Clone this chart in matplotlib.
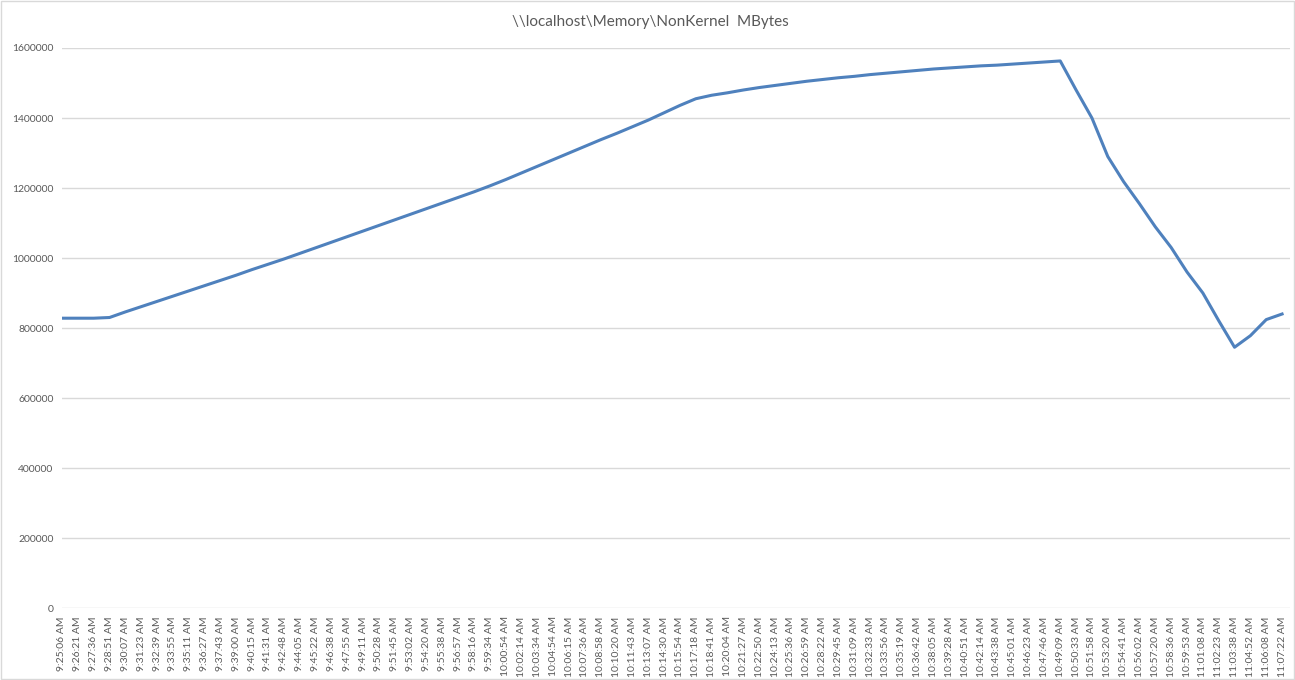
import matplotlib
matplotlib.use('Agg')
import matplotlib.pyplot as plt
from matplotlib.patches import Rectangle

plt.rcParams['font.family'] = ['Lato', 'DejaVu Sans']

BLUE = "#4F81BD"
GRID = "#D9D9D9"
TEXT = "#595959"

# sample times shown on the category axis
times = [
    "9:25:06 AM", "9:26:21 AM", "9:27:36 AM", "9:28:51 AM", "9:30:07 AM", "9:31:23 AM",
    "9:32:39 AM", "9:33:55 AM", "9:35:11 AM", "9:36:27 AM", "9:37:43 AM", "9:39:00 AM",
    "9:40:15 AM", "9:41:31 AM", "9:42:48 AM", "9:44:05 AM", "9:45:22 AM", "9:46:38 AM",
    "9:47:55 AM", "9:49:11 AM", "9:50:28 AM", "9:51:45 AM", "9:53:02 AM", "9:54:20 AM",
    "9:55:38 AM", "9:56:57 AM", "9:58:16 AM", "9:59:34 AM", "10:00:54 AM", "10:02:14 AM",
    "10:03:34 AM", "10:04:54 AM", "10:06:15 AM", "10:07:36 AM", "10:08:58 AM", "10:10:20 AM",
    "10:11:43 AM", "10:13:07 AM", "10:14:30 AM", "10:15:54 AM", "10:17:18 AM", "10:18:41 AM",
    "10:20:04 AM", "10:21:27 AM", "10:22:50 AM", "10:24:13 AM", "10:25:36 AM", "10:26:59 AM",
    "10:28:22 AM", "10:29:45 AM", "10:31:09 AM", "10:32:33 AM", "10:33:56 AM", "10:35:19 AM",
    "10:36:42 AM", "10:38:05 AM", "10:39:28 AM", "10:40:51 AM", "10:42:14 AM", "10:43:38 AM",
    "10:45:01 AM", "10:46:23 AM", "10:47:46 AM", "10:49:09 AM", "10:50:33 AM", "10:51:58 AM",
    "10:53:20 AM", "10:54:41 AM", "10:56:02 AM", "10:57:20 AM", "10:58:36 AM", "10:59:53 AM",
    "11:01:08 AM", "11:02:23 AM", "11:03:38 AM", "11:04:52 AM", "11:06:08 AM", "11:07:22 AM",
]

# NonKernel MBytes at each labelled sample (thousands)
mbytes_k = [
    828, 828, 828, 830, 846, 861, 876, 891, 906, 921, 936, 951,
    967, 982, 997, 1013, 1029, 1045, 1061, 1077, 1093, 1109, 1125, 1141,
    1157, 1173, 1189, 1206, 1224, 1243, 1262, 1281, 1300, 1319, 1338, 1356,
    1375, 1394, 1415, 1436, 1455, 1465, 1472, 1480, 1487, 1493, 1499, 1505,
    1510, 1515, 1519, 1524, 1528, 1532, 1536, 1540, 1543, 1546, 1549, 1551,
    1554, 1557, 1560, 1563, 1480, 1400, 1290, 1218, 1155, 1089, 1030, 960,
    900, 821, 745, 778, 824, 840,
]
mbytes = [v * 1000 for v in mbytes_k]

y_ticks = [0, 200000, 400000, 600000, 800000, 1000000, 1200000, 1400000, 1600000]

fig = plt.figure(figsize=(12.95, 6.8), dpi=100)
ax = fig.add_axes([62 / 1295, 1 - 608 / 680, (1290 - 62) / 1295, (608 - 48) / 680])

x = list(range(len(times)))
ax.plot(x, mbytes, color=BLUE, linewidth=2.2, solid_joinstyle='round', zorder=3)

ax.set_xlim(0, 77.5)
ax.set_ylim(0, 1600000)
ax.set_yticks(y_ticks)
ax.set_yticklabels([str(v) for v in y_ticks], fontsize=7.5, color=TEXT)
ax.set_xticks(x)
ax.set_xticklabels(times, rotation=90, fontsize=7.5, color=TEXT)
ax.tick_params(length=0, pad=6)
ax.yaxis.grid(True, color=GRID, linewidth=1.0)
ax.set_axisbelow(True)
for s in ax.spines.values():
    s.set_visible(False)

fig.text(650 / 1295, 1 - 22 / 680, "\\\\localhost\\Memory\\NonKernel  MBytes",
         ha='center', va='center', fontsize=11, color=TEXT)

# chart border
fig.patches.append(Rectangle((0.0005, 0.001), 0.999, 0.998, transform=fig.transFigure,
                             fill=False, edgecolor=GRID, linewidth=1.0))

fig.savefig('out.png', dpi=100, facecolor='white')
